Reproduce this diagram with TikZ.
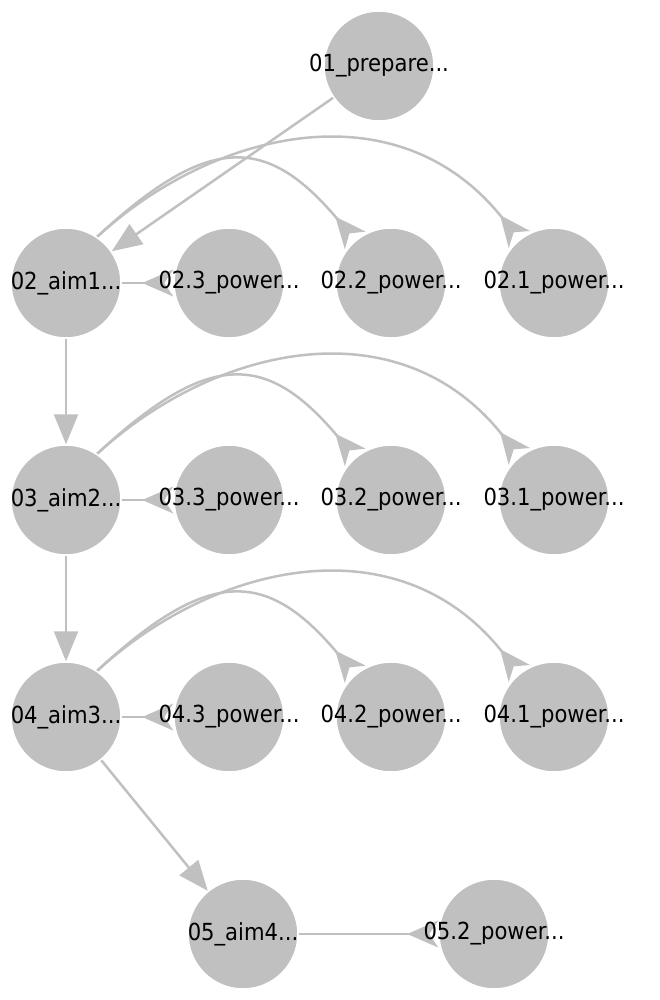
\documentclass[tikz,border=0pt]{standalone}
\usepackage{fontspec}
\setmainfont{DejaVu Sans Condensed}
\usetikzlibrary{arrows.meta,backgrounds}
\definecolor{nodegray}{HTML}{C0C0C0}

\begin{document}
\begin{tikzpicture}[x=1pt, y=-1pt,
  topic/.style={circle, fill=nodegray, draw=white, line width=1.5pt, minimum size=110pt, inner sep=0pt, font=\fontsize{23.5}{28}\selectfont},
  link/.style={draw=nodegray, line width=2.5pt, -{Triangle[length=30pt,width=24pt]}},
  plink/.style={draw=nodegray, line width=2.5pt, -{Stealth[reversed,length=31pt,width=27pt,inset=9pt]}}]
\useasboundingbox (0,0) rectangle (660,1000);
\node[topic] (prep) at (379,66) {\makebox[0pt]{01\_prepare...}};
\foreach \n/\a/\y in {2/1/283, 3/2/500, 4/3/717} {
  \node[topic] (aim\n) at (66,\y) {\makebox[0pt]{0\n\_aim\a...}};
  \node[topic] (pow\n3) at (229,\y) {\makebox[0pt]{0\n.3\_power...}};
  \node[topic] (pow\n2) at (391,\y) {\makebox[0pt]{0\n.2\_power...}};
  \node[topic] (pow\n1) at (554,\y) {\makebox[0pt]{0\n.1\_power...}};
}
\node[topic] (aim5) at (243,934) {\makebox[0pt]{05\_aim4...}};
\node[topic] (pow52) at (494,934) {\makebox[0pt]{05.2\_power...}};
\begin{scope}[on background layer]
  \draw[link] (prep) -- (aim2);
  \draw[link] (aim2) -- (aim3);
  \draw[link] (aim3) -- (aim4);
  \draw[link] (aim4) -- (aim5);
  \draw[plink] (aim5) -- (pow52);
  \foreach \n/\y in {2/283, 3/500, 4/717} {
    \draw[plink] (aim\n) -- (pow\n3);
    \draw[plink] (aim\n.56) .. controls (208,\y-149) and (266,\y-149) .. (pow\n2);
    \draw[plink] (aim\n.56) .. controls (216,\y-155) and (399,\y-195) .. (pow\n1);
  }
\end{scope}
\end{tikzpicture}
\end{document}
